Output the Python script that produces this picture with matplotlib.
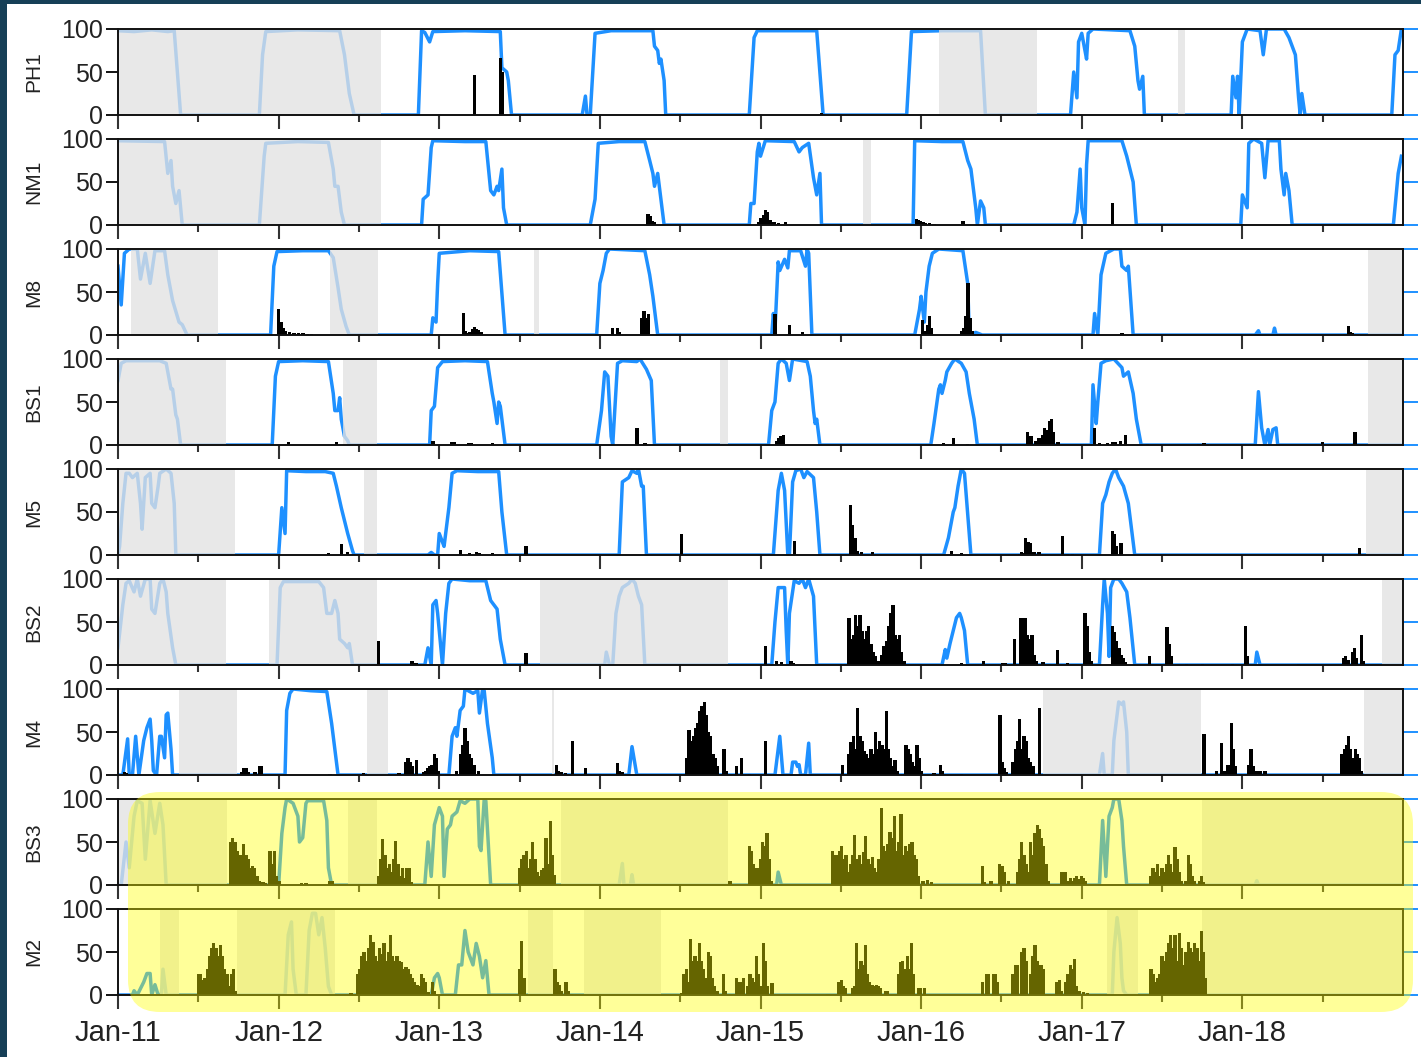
import numpy as np
import matplotlib
matplotlib.use("Agg")
import matplotlib.pyplot as plt
from matplotlib.patches import FancyBboxPatch, Rectangle

plt.rcParams['font.family'] = ['Liberation Sans', 'DejaVu Sans']

# ---- data (decimal years; % ice cover; call counts) ----
stations = ['PH1', 'NM1', 'M8', 'BS1', 'M5', 'BS2', 'M4', 'BS3', 'M2']

ph1_ice = [(2011.00, 98), (2011.10, 97), (2011.21, 99), (2011.31, 97), (2011.35, 98), (2011.39, 0),
           (2011.88, 0), (2011.90, 70), (2011.92, 97), (2012.12, 99), (2012.38, 98), (2012.41, 70),
           (2012.42, 55), (2012.44, 25), (2012.47, 0), (2012.87, 0), (2012.89, 98), (2012.91, 96),
           (2012.94, 85), (2012.96, 97), (2013.16, 98), (2013.38, 97), (2013.39, 55), (2013.42, 50),
           (2013.43, 40), (2013.45, 0), (2013.89, 0), (2013.91, 22), (2013.92, 0), (2013.94, 0),
           (2013.97, 95), (2014.07, 98), (2014.33, 98), (2014.34, 80), (2014.36, 75), (2014.37, 60),
           (2014.38, 65), (2014.40, 40), (2014.41, 0), (2014.93, 0), (2014.96, 90), (2014.98, 98),
           (2015.17, 98), (2015.35, 98), (2015.39, 0), (2015.91, 0), (2015.94, 97), (2016.13, 98),
           (2016.37, 98), (2016.40, 0), (2016.93, 0), (2016.95, 50), (2016.97, 20), (2016.98, 85),
           (2017.00, 95), (2017.02, 75), (2017.03, 65), (2017.04, 95), (2017.07, 100), (2017.30, 98),
           (2017.33, 80), (2017.35, 40), (2017.36, 30), (2017.38, 45), (2017.39, 0), (2017.93, 0),
           (2017.94, 45), (2017.96, 20), (2017.97, 45), (2017.98, 0), (2018.00, 85), (2018.03, 100),
           (2018.11, 98), (2018.13, 70), (2018.15, 100), (2018.26, 100), (2018.29, 90), (2018.33, 70),
           (2018.35, 20), (2018.36, 0), (2018.37, 25), (2018.39, 0), (2018.93, 0), (2018.95, 70),
           (2018.97, 75), (2018.99, 100)]
ph1_gaps = [(2011.00, 2012.64), (2016.11, 2016.72), (2017.60, 2017.64)]
ph1_calls = [(2013.21, [46]), (2013.37, [66, 50]), (2015.37, [2])]

nm1_ice = [(2011.00, 98), (2011.29, 97), (2011.31, 60), (2011.33, 75), (2011.34, 45), (2011.36, 25),
           (2011.38, 40), (2011.40, 0), (2011.88, 0), (2011.91, 80), (2011.92, 95), (2012.12, 97),
           (2012.31, 96), (2012.34, 65), (2012.35, 45), (2012.37, 45), (2012.39, 15), (2012.41, 0),
           (2012.89, 0), (2012.90, 30), (2012.93, 35), (2012.95, 90), (2012.96, 98), (2013.16, 97),
           (2013.29, 97), (2013.32, 40), (2013.34, 35), (2013.36, 45), (2013.37, 40), (2013.39, 65),
           (2013.40, 20), (2013.42, 0), (2013.94, 0), (2013.97, 30), (2013.99, 95), (2014.12, 97),
           (2014.28, 97), (2014.31, 75), (2014.33, 60), (2014.34, 45), (2014.36, 60), (2014.38, 30),
           (2014.40, 0), (2014.93, 0), (2014.94, 25), (2014.96, 25), (2014.98, 85), (2014.99, 95),
           (2015.00, 80), (2015.03, 98), (2015.21, 97), (2015.24, 85), (2015.26, 90), (2015.30, 95),
           (2015.33, 55), (2015.35, 35), (2015.37, 60), (2015.38, 0), (2015.95, 0), (2015.96, 98),
           (2016.13, 97), (2016.26, 97), (2016.29, 75), (2016.31, 65), (2016.34, 20), (2016.35, 0),
           (2016.37, 28), (2016.39, 20), (2016.40, 0), (2016.95, 0), (2016.97, 15), (2016.99, 65),
           (2017.00, 20), (2017.02, 0), (2017.03, 70), (2017.04, 98), (2017.25, 98), (2017.28, 80),
           (2017.32, 50), (2017.34, 0), (2017.99, 0), (2018.00, 35), (2018.03, 20), (2018.04, 95),
           (2018.07, 100), (2018.12, 95), (2018.14, 55), (2018.16, 98), (2018.23, 98), (2018.24, 65),
           (2018.26, 35), (2018.27, 60), (2018.29, 40), (2018.31, 0), (2018.94, 0), (2018.97, 60),
           (2018.99, 80)]
nm1_gaps = [(2011.00, 2012.64), (2015.64, 2015.69)]
nm1_calls = [(2014.29, [13, 10, 5, 4]), (2014.98, [4, 8, 12, 17, 15, 6, 4, 3, 0, 2, 0, 0, 3]),
             (2015.96, [7, 6, 5, 3, 2, 0, 2, 0, 1]), (2016.25, [5]), (2017.18, [25]), (2017.99, [1])]

m8_ice = [(2011.00, 80), (2011.02, 35), (2011.04, 95), (2011.07, 100), (2011.12, 100), (2011.14, 65),
          (2011.17, 95), (2011.20, 60), (2011.23, 98), (2011.29, 98), (2011.31, 70), (2011.34, 40),
          (2011.38, 15), (2011.40, 12), (2011.43, 0), (2011.95, 0), (2011.97, 80), (2011.99, 97),
          (2012.15, 98), (2012.31, 98), (2012.34, 90), (2012.37, 55), (2012.39, 30), (2012.42, 10),
          (2012.44, 0), (2012.95, 0), (2012.96, 20), (2012.98, 15), (2012.99, 60), (2013.00, 95),
          (2013.19, 98), (2013.37, 97), (2013.41, 0), (2013.98, 0), (2014.00, 60), (2014.02, 75),
          (2014.04, 95), (2014.06, 100), (2014.28, 98), (2014.31, 70), (2014.33, 45), (2014.36, 0),
          (2015.07, 0), (2015.08, 25), (2015.09, 5), (2015.11, 85), (2015.12, 75), (2015.15, 88),
          (2015.17, 78), (2015.18, 98), (2015.25, 98), (2015.28, 80), (2015.29, 100), (2015.30, 95),
          (2015.32, 0), (2015.96, 0), (2015.99, 30), (2016.00, 45), (2016.02, 15), (2016.03, 50),
          (2016.05, 80), (2016.07, 95), (2016.11, 100), (2016.26, 98), (2016.29, 60), (2016.30, 0),
          (2016.34, 3), (2016.38, 0), (2017.07, 0), (2017.08, 25), (2017.10, 0), (2017.12, 70),
          (2017.15, 95), (2017.20, 100), (2017.24, 100), (2017.25, 80), (2017.28, 75), (2017.29, 80),
          (2017.32, 0), (2018.08, 0), (2018.10, 5), (2018.11, 0), (2018.19, 0), (2018.20, 8),
          (2018.21, 0), (2019.00, 0)]
m8_gaps = [(2011.08, 2011.62), (2012.32, 2012.62), (2013.59, 2013.62), (2018.78, 2019.00)]
m8_calls = [(2011.99, [30, 15, 8, 5, 0, 3, 0, 2, 0, 2, 0, 2, 0, 1, 0, 1]),
            (2013.14, [26, 5, 2, 3, 7, 9, 7, 6, 3]), (2014.07, [8, 0, 8, 4]), (2014.25, [20, 28, 20, 25]),
            (2015.08, [25]), (2015.17, [12]), (2015.25, [3]), (2016.00, [18, 5, 12, 22, 8]),
            (2016.24, [5, 8, 22, 60, 20, 5]), (2017.24, [2]), (2018.65, [10, 4, 2])]

bs1_ice = [(2011.00, 75), (2011.02, 95), (2011.05, 98), (2011.26, 98), (2011.30, 95), (2011.33, 65),
           (2011.34, 65), (2011.36, 35), (2011.37, 30), (2011.39, 0), (2011.96, 0), (2011.98, 80),
           (2012.00, 97), (2012.15, 98), (2012.31, 97), (2012.34, 60), (2012.35, 40), (2012.37, 40),
           (2012.38, 55), (2012.39, 30), (2012.41, 10), (2012.43, 5), (2012.44, 0), (2012.94, 0),
           (2012.95, 40), (2012.97, 45), (2012.99, 90), (2013.02, 97), (2013.16, 98), (2013.30, 97),
           (2013.33, 60), (2013.34, 50), (2013.36, 25), (2013.37, 50), (2013.38, 45), (2013.41, 0),
           (2013.98, 0), (2014.01, 40), (2014.03, 85), (2014.05, 80), (2014.07, 10), (2014.08, 0),
           (2014.11, 95), (2014.14, 98), (2014.23, 97), (2014.25, 100), (2014.29, 88), (2014.32, 75),
           (2014.34, 0), (2015.05, 0), (2015.07, 40), (2015.09, 50), (2015.11, 95), (2015.13, 100),
           (2015.16, 95), (2015.18, 75), (2015.20, 100), (2015.29, 97), (2015.31, 80), (2015.33, 40),
           (2015.34, 25), (2015.35, 30), (2015.37, 0), (2016.06, 0), (2016.08, 25), (2016.11, 65),
           (2016.12, 70), (2016.13, 60), (2016.15, 75), (2016.16, 85), (2016.19, 95), (2016.21, 100),
           (2016.25, 95), (2016.28, 85), (2016.30, 60), (2016.33, 30), (2016.35, 0), (2017.06, 0),
           (2017.07, 70), (2017.09, 25), (2017.10, 50), (2017.12, 95), (2017.15, 98), (2017.20, 100),
           (2017.25, 90), (2017.26, 80), (2017.29, 85), (2017.32, 60), (2017.34, 30), (2017.37, 0),
           (2018.08, 0), (2018.10, 62), (2018.12, 20), (2018.14, 0), (2018.16, 18), (2018.17, 0),
           (2018.19, 18), (2018.21, 20), (2018.22, 0), (2019.00, 0)]
bs1_gaps = [(2011.00, 2011.67), (2012.40, 2012.61), (2014.75, 2014.80), (2018.78, 2019.00)]
bs1_calls = [(2012.05, [4]), (2012.35, [3]), (2012.95, [5]), (2013.07, [4, 4]), (2013.17, [2]),
             (2013.19, [2]), (2013.32, [2]), (2014.22, [20]), (2014.27, [2]), (2015.09, [5, 8, 10, 12]),
             (2016.13, [2]), (2016.19, [8]), (2016.28, [1]),
             (2016.65, [15, 10, 10, 0, 5, 8, 8, 12, 20, 18, 28, 30, 15, 0, 3]),
             (2017.07, [20]), (2017.10, [2]), (2017.15, [2]), (2017.18, [3]), (2017.20, [3]),
             (2017.23, [5]), (2017.26, [12]), (2017.40, [1]), (2017.72, [1]), (2017.75, [2]),
             (2018.49, [4]), (2018.69, [15])]

m5_ice = [(2011.00, 0), (2011.01, 10), (2011.03, 60), (2011.05, 95), (2011.07, 95), (2011.09, 90),
          (2011.12, 95), (2011.14, 60), (2011.15, 30), (2011.17, 90), (2011.20, 95), (2011.21, 60),
          (2011.23, 55), (2011.25, 80), (2011.26, 95), (2011.30, 100), (2011.33, 95), (2011.35, 60),
          (2011.36, 0), (2012.00, 0), (2012.02, 55), (2012.04, 25), (2012.05, 98), (2012.17, 97),
          (2012.29, 97), (2012.34, 95), (2012.36, 80), (2012.39, 55), (2012.43, 25), (2012.46, 5),
          (2012.47, 0), (2012.93, 0), (2012.95, 3), (2012.97, 0), (2012.99, 0), (2013.00, 25),
          (2013.02, 15), (2013.03, 10), (2013.06, 55), (2013.08, 95), (2013.11, 98), (2013.24, 97),
          (2013.37, 97), (2013.39, 50), (2013.42, 0), (2014.12, 0), (2014.14, 85), (2014.18, 90),
          (2014.20, 98), (2014.23, 95), (2014.24, 100), (2014.26, 80), (2014.27, 80), (2014.29, 0),
          (2015.08, 0), (2015.11, 75), (2015.13, 95), (2015.15, 75), (2015.17, 0), (2015.18, 0),
          (2015.20, 85), (2015.22, 98), (2015.25, 100), (2015.27, 90), (2015.29, 97), (2015.33, 90),
          (2015.35, 50), (2015.37, 0), (2016.14, 0), (2016.17, 20), (2016.20, 50), (2016.21, 55),
          (2016.23, 80), (2016.25, 100), (2016.27, 95), (2016.31, 0), (2017.11, 0), (2017.13, 60),
          (2017.15, 70), (2017.17, 85), (2017.19, 95), (2017.21, 100), (2017.23, 90), (2017.26, 80),
          (2017.29, 60), (2017.33, 0), (2019.00, 0)]
m5_gaps = [(2011.00, 2011.73), (2012.53, 2012.61), (2018.77, 2019.00)]
m5_calls = [(2012.30, [2]), (2012.38, [13]), (2012.42, [4]), (2013.12, [6]), (2013.18, [2]),
            (2013.22, [3]), (2013.24, [2]), (2013.32, [2]), (2013.53, [10]), (2014.50, [24]),
            (2015.20, [16]), (2015.55, [58, 35, 20, 5, 0, 3, 0, 0, 0, 0, 3]), (2016.18, [5]),
            (2016.24, [2]), (2016.60, [1, 3, 2, 20, 15, 14, 3, 3, 0, 3]), (2016.87, [22]),
            (2016.90, [1]), (2016.93, [1]), (2017.18, [28, 25, 10, 0, 14]), (2018.72, [8])]

bs2_ice = [(2011.00, 20), (2011.03, 70), (2011.05, 95), (2011.07, 98), (2011.10, 85), (2011.12, 100),
           (2011.14, 80), (2011.17, 100), (2011.20, 100), (2011.21, 65), (2011.23, 60), (2011.26, 95),
           (2011.28, 100), (2011.30, 85), (2011.31, 60), (2011.34, 20), (2011.36, 0), (2011.99, 0),
           (2012.01, 90), (2012.03, 97), (2012.25, 97), (2012.28, 90), (2012.30, 60), (2012.33, 60),
           (2012.35, 75), (2012.37, 60), (2012.38, 30), (2012.41, 25), (2012.43, 20), (2012.44, 25),
           (2012.46, 0), (2012.91, 0), (2012.93, 20), (2012.95, 0), (2012.96, 70), (2012.98, 75),
           (2012.99, 60), (2013.02, 0), (2013.04, 60), (2013.06, 95), (2013.08, 100), (2013.19, 98),
           (2013.29, 98), (2013.32, 75), (2013.36, 65), (2013.38, 30), (2013.41, 0), (2014.03, 0),
           (2014.04, 15), (2014.06, 0), (2014.08, 0), (2014.10, 60), (2014.12, 80), (2014.14, 90),
           (2014.18, 95), (2014.20, 100), (2014.22, 95), (2014.24, 80), (2014.26, 70), (2014.28, 0),
           (2015.07, 0), (2015.09, 50), (2015.11, 90), (2015.15, 90), (2015.16, 40), (2015.17, 0),
           (2015.18, 60), (2015.21, 98), (2015.24, 95), (2015.26, 100), (2015.28, 90), (2015.30, 100),
           (2015.33, 80), (2015.35, 0), (2016.13, 0), (2016.15, 18), (2016.16, 8), (2016.18, 25),
           (2016.20, 40), (2016.22, 55), (2016.24, 60), (2016.25, 55), (2016.27, 40), (2016.29, 0),
           (2017.11, 0), (2017.13, 70), (2017.14, 100), (2017.16, 60), (2017.17, 10), (2017.18, 90),
           (2017.20, 100), (2017.23, 100), (2017.25, 95), (2017.28, 85), (2017.30, 55), (2017.33, 0),
           (2018.08, 0), (2018.09, 15), (2018.11, 0), (2019.00, 0)]
bs2_gaps = [(2011.00, 2011.67), (2011.94, 2012.61), (2013.63, 2014.80), (2018.87, 2019.00)]
bs2_calls = [(2012.61, [28]), (2012.82, [5, 2, 2]), (2013.53, [14]), (2015.02, [22]), (2015.09, [5]),
             (2015.12, [3]), (2015.18, [5, 2]),
             (2015.54, [55, 30, 35, 58, 45, 58, 40, 30, 40, 45, 25, 15, 10, 5, 5,
                        12, 22, 28, 45, 60, 70, 35, 30, 35, 15, 5]),
             (2016.24, [2]), (2016.38, [5]), (2016.50, [2, 2]),
             (2016.57, [30, 0, 0, 55, 55, 55, 35, 30, 35, 12, 5, 0, 0, 3]), (2016.84, [18]),
             (2016.90, [2]), (2017.01, [60, 45, 15, 5]), (2017.18, [45, 38, 28, 20, 12, 8, 3]),
             (2017.41, [10]), (2017.52, [44, 25, 10]), (2017.64, [1]), (2017.74, [1]), (2017.93, [1]),
             (2018.01, [45, 10]), (2018.34, [1]), (2018.62, [8, 10, 6, 0, 15, 20, 8, 0, 35, 5])]

m4_ice = [(2011.00, 0), (2011.03, 0), (2011.06, 42), (2011.07, 0), (2011.09, 0), (2011.11, 45),
          (2011.13, 0), (2011.16, 40), (2011.18, 55), (2011.20, 65), (2011.21, 40), (2011.22, 5),
          (2011.24, 0), (2011.26, 45), (2011.27, 45), (2011.29, 20), (2011.30, 70), (2011.31, 72),
          (2011.33, 30), (2011.34, 0), (2012.04, 0), (2012.05, 75), (2012.07, 95), (2012.09, 100),
          (2012.20, 98), (2012.30, 97), (2012.33, 60), (2012.35, 30), (2012.37, 0), (2013.06, 0),
          (2013.08, 45), (2013.10, 55), (2013.11, 45), (2013.13, 75), (2013.15, 80), (2013.16, 100),
          (2013.21, 95), (2013.24, 98), (2013.25, 72), (2013.27, 100), (2013.28, 98), (2013.30, 60),
          (2013.33, 20), (2013.34, 0), (2014.18, 0), (2014.20, 33), (2014.23, 0), (2015.09, 0),
          (2015.12, 45), (2015.14, 0), (2015.19, 0), (2015.20, 15), (2015.22, 15), (2015.23, 10),
          (2015.24, 12), (2015.25, 0), (2015.28, 0), (2015.30, 37), (2015.31, 0), (2017.11, 0),
          (2017.13, 25), (2017.14, 0), (2017.19, 0), (2017.20, 40), (2017.23, 85), (2017.25, 82),
          (2017.26, 85), (2017.28, 50), (2017.29, 0), (2019.00, 0)]
m4_gaps = [(2011.38, 2011.74), (2012.55, 2012.68), (2013.70, 2013.715), (2016.76, 2017.74),
           (2018.76, 2019.00)]
m4_calls = [(2011.03, [4, 2]), (2011.76, [3, 8, 8, 3, 0, 0, 3, 0, 10, 10]), (2012.31, [1]),
            (2012.52, [2]),
            (2012.74, [2, 0, 0, 15, 20, 15, 10, 0, 18, 0, 0, 3, 5, 8, 10, 12, 25, 20, 5, 0, 0, 0,
                       0, 0, 0, 0, 5, 0, 25, 35, 55, 40, 25, 20, 12, 0, 5]),
            (2013.72, [12, 5, 3, 0, 2]), (2013.82, [40]), (2013.90, [8]), (2014.10, [14, 5, 3]),
            (2014.53, [20, 52, 40, 45, 55, 60, 75, 80, 85, 70, 50, 45, 25, 20, 10, 0, 0, 30, 5]),
            (2014.84, [10]), (2014.87, [20]), (2014.92, [1]), (2015.02, [40]), (2015.50, [12]),
            (2015.54, [25, 38, 45, 30, 78, 45, 40, 28, 25, 20, 30, 25, 50, 30, 40, 35, 30, 75, 30,
                       20, 10, 18, 5, 0, 0, 0, 35, 30, 25, 15, 10, 35, 20, 5]),
            (2016.07, [2]), (2016.11, [12, 5]), (2016.24, [1]),
            (2016.48, [70, 15, 8, 3, 0, 0, 15, 30, 40, 65, 30, 45, 40, 20, 15, 10, 0, 0, 78]),
            (2017.75, [48]), (2017.83, [5]), (2017.86, [37]), (2017.88, [5]), (2017.90, [12]),
            (2017.92, [60, 30, 10]), (2018.03, [12, 30, 10]), (2018.08, [5]), (2018.10, [5]),
            (2018.13, [5]), (2018.61, [25, 30, 35, 45, 30, 20, 30, 25, 20, 5])]

bs3_ice = [(2011.00, 0), (2011.02, 0), (2011.05, 50), (2011.07, 20), (2011.10, 80), (2011.12, 98),
           (2011.15, 95), (2011.17, 30), (2011.20, 98), (2011.23, 60), (2011.26, 95), (2011.28, 70),
           (2011.30, 0), (2012.00, 0), (2012.02, 60), (2012.04, 90), (2012.05, 100), (2012.09, 95),
           (2012.12, 80), (2012.13, 50), (2012.15, 55), (2012.17, 95), (2012.18, 98), (2012.28, 98),
           (2012.30, 75), (2012.31, 20), (2012.33, 0), (2012.91, 0), (2012.93, 50), (2012.95, 10),
           (2012.97, 70), (2013.00, 90), (2013.02, 80), (2013.03, 10), (2013.05, 65), (2013.07, 70),
           (2013.08, 80), (2013.11, 85), (2013.13, 98), (2013.16, 95), (2013.19, 100), (2013.24, 100),
           (2013.25, 45), (2013.26, 40), (2013.28, 100), (2013.29, 98), (2013.32, 0), (2014.12, 0),
           (2014.14, 25), (2014.15, 0), (2014.19, 0), (2014.20, 12), (2014.21, 0), (2015.10, 0),
           (2015.11, 15), (2015.13, 0), (2017.11, 0), (2017.13, 75), (2017.15, 10), (2017.17, 80),
           (2017.19, 90), (2017.20, 100), (2017.23, 100), (2017.25, 75), (2017.26, 45), (2017.28, 0),
           (2018.08, 0), (2018.09, 5), (2018.10, 0), (2019.00, 0)]
bs3_gaps = [(2011.00, 2011.68), (2012.43, 2012.61), (2013.76, 2014.80), (2017.75, 2019.00)]
bs3_calls = [(2011.69, [50, 55, 50, 40, 35, 35, 48, 35, 30, 20, 22, 20, 10, 5, 3, 3, 2, 0, 40, 25,
                        40, 10, 5]),
             (2012.13, [2]), (2012.16, [2]), (2012.31, [5, 5]),
             (2012.61, [10, 30, 53, 35, 20, 25, 15, 30, 51, 25, 10, 20, 8, 20, 20, 3]),
             (2013.49, [20, 30, 35, 40, 20, 30, 50, 30, 15, 10, 18, 20, 55, 25, 75, 35, 12]),
             (2014.80, [5]), (2014.92, [45, 40, 25, 20, 20, 30, 50, 45, 60, 30, 5]),
             (2015.44, [40, 35, 35, 40, 45, 30, 35, 15, 25, 35, 58, 30, 35, 25, 38, 57, 30, 25, 33,
                        20, 15, 30, 90, 45, 40, 48, 62, 55, 80, 40, 50, 83, 35, 45, 40, 48, 50, 35,
                        30, 10, 0, 5, 0, 6, 0, 3]),
             (2016.37, [22, 3, 0, 0, 5, 0, 0, 0, 25, 22, 15, 0, 5, 0, 0, 0, 15, 30, 50, 35, 25, 15,
                        50, 35, 60, 70, 65, 55, 45, 25, 5, 0, 0, 0, 0, 0, 15, 15, 15, 5, 8, 5, 8, 10,
                        7, 10, 8, 5]),
             (2017.42, [10, 20, 15, 25, 10, 20, 15, 25, 35, 25, 15, 44, 30, 15, 5, 0, 5, 35, 25, 10,
                        5, 0, 5, 10, 3])]

m2_ice = [(2011.00, 0), (2011.09, 0), (2011.10, 5), (2011.12, 0), (2011.16, 15), (2011.18, 25),
          (2011.20, 25), (2011.21, 0), (2011.23, 12), (2011.25, 0), (2011.27, 0), (2011.28, 30),
          (2011.30, 0), (2012.04, 0), (2012.06, 70), (2012.08, 85), (2012.09, 30), (2012.11, 0),
          (2012.17, 0), (2012.19, 75), (2012.21, 95), (2012.23, 95), (2012.25, 70), (2012.27, 90),
          (2012.29, 55), (2012.31, 10), (2012.33, 0), (2012.95, 0), (2012.97, 20), (2012.99, 25),
          (2013.00, 20), (2013.02, 0), (2013.10, 0), (2013.12, 35), (2013.14, 35), (2013.16, 75),
          (2013.18, 50), (2013.21, 35), (2013.23, 60), (2013.25, 45), (2013.27, 20), (2013.29, 40),
          (2013.31, 0), (2017.19, 0), (2017.20, 50), (2017.22, 90), (2017.24, 60), (2017.25, 20),
          (2017.26, 5), (2017.28, 0), (2019.00, 0)]
m2_gaps = [(2011.26, 2011.38), (2011.74, 2012.35), (2013.55, 2013.71), (2013.90, 2014.38),
           (2017.16, 2017.35), (2017.75, 2019.00)]
m2_calls = [(2011.49, [25, 25, 18, 20, 30, 45, 55, 60, 55, 45, 58, 45, 30, 25, 10, 25, 30, 5]),
            (2012.44, [2, 0, 0, 25, 30, 45, 50, 40, 55, 70, 62, 45, 40, 55, 48, 60, 40, 50, 70, 45,
                       40, 45, 40, 38, 30, 32, 30, 25, 20, 15, 12, 10, 25, 20, 15, 3, 0, 15, 5]),
            (2013.49, [30, 63, 20]), (2013.71, [30, 15, 12, 5, 0, 15, 5]), (2013.81, [1]),
            (2014.50, [2, 25, 30, 15, 65, 40, 45, 40, 60, 40, 30, 20, 50, 45, 20, 10, 5, 0, 0, 25, 5,
                       0, 0, 0, 0, 20, 15, 15, 20, 0, 10, 25, 20, 15, 45, 25, 10, 60, 40, 10, 0, 14]),
            (2015.41, [1, 0, 0, 0, 0, 15, 18, 10, 8, 0, 0, 8, 10, 60, 30, 40, 35, 58, 25, 15, 12, 10,
                       12, 10, 8, 0, 5, 5, 0, 0, 0, 0, 25, 38, 40, 30, 45, 30, 60, 25, 0, 8, 8, 0, 8]),
            (2016.37, [15, 0, 25, 25, 0, 25, 25, 15, 0, 0, 0, 0, 0, 0, 25, 35, 35, 0, 50, 55, 40, 0,
                       25, 45, 58, 40, 35, 35, 30, 0, 0, 0, 0, 0, 15, 18, 5, 0, 15, 25, 35, 30, 42,
                       10, 5, 0, 3, 0, 2]),
            (2017.42, [30, 25, 15, 20, 25, 45, 40, 50, 60, 70, 55, 70, 40, 72, 55, 35, 50, 62, 55, 50,
                       60, 55, 40, 75, 50, 20])]

year_ticks = [2011, 2012, 2013, 2014, 2015, 2016, 2017, 2018]
year_labels = ['Jan-11', 'Jan-12', 'Jan-13', 'Jan-14', 'Jan-15', 'Jan-16', 'Jan-17', 'Jan-18']

ice_data = [ph1_ice, nm1_ice, m8_ice, bs1_ice, m5_ice, bs2_ice, m4_ice, bs3_ice, m2_ice]
gap_data = [ph1_gaps, nm1_gaps, m8_gaps, bs1_gaps, m5_gaps, bs2_gaps, m4_gaps, bs3_gaps, m2_gaps]
call_data = [ph1_calls, nm1_calls, m8_calls, bs1_calls, m5_calls, bs2_calls, m4_calls, bs3_calls,
             m2_calls]

BIN = 5 / 365.25  # call counts are in 5-day bins
ICE = '#1e90ff'

W, H = 1421, 1057
fig = plt.figure(figsize=(W / 100, H / 100), dpi=100)
fig.patch.set_facecolor('white')

for i, name in enumerate(stations):
    top = 29 + 110 * i
    ax = fig.add_axes([118 / W, 1 - (top + 86) / H, 1285 / W, 86 / H])

    ice = np.array(ice_data[i], dtype=float)
    ax.plot(ice[:, 0], ice[:, 1], color=ICE, lw=2.5, zorder=2, solid_joinstyle='round')

    for g0, g1 in gap_data[i]:
        ax.axvspan(g0, g1, color='#e2e2e2', alpha=0.78, lw=0, zorder=3)

    for start, heights in call_data[i]:
        x = start + BIN * np.arange(len(heights))
        ax.bar(x, heights, width=BIN * 1.5, color='black', align='edge', lw=0, zorder=4)

    ax.set_xlim(2011, 2019)
    ax.set_ylim(0, 100)
    ax.set_yticks([0, 50, 100])
    ax.set_xticks(year_ticks)
    ax.set_xticks(np.array(year_ticks) + 0.5, minor=True)
    if i == len(stations) - 1:
        ax.set_xticklabels(year_labels)
    else:
        ax.set_xticklabels([])
    ax.tick_params(axis='y', direction='out', length=9, width=1.3, labelsize=18,
                   labelcolor='#222222', pad=2)
    ax.tick_params(axis='x', which='major', direction='out', length=10, width=1.5,
                   color='#333333', labelsize=21, labelcolor='#222222', pad=7)
    ax.tick_params(axis='x', which='minor', direction='out', length=5, width=1.5, color='#333333')
    for sp in ax.spines.values():
        sp.set_linewidth(1.4)
        sp.set_color('#111111')
        sp.set_zorder(6)
    ax.set_ylabel(name, fontsize=15, color='#222222')
    ax.yaxis.set_label_coords(-0.058, 0.5)

    sec = ax.secondary_yaxis('right')
    sec.set_yticks([0, 50, 100])
    sec.tick_params(direction='out', length=11, width=1.4, color=ICE, labelright=False)
    sec.spines['right'].set_visible(False)

# yellow highlight over the two bottom stations
fig.add_artist(FancyBboxPatch((1.28, 0.45), 12.85, 2.20,
                              boxstyle='round,pad=0,rounding_size=0.32',
                              transform=fig.dpi_scale_trans, facecolor='#ffff00',
                              edgecolor='none', alpha=0.4, zorder=20))

# dark frame strips on the top and left edges
fig.add_artist(Rectangle((0, 10.53), 14.21, 0.05, transform=fig.dpi_scale_trans,
                         facecolor='#163f57', edgecolor='none', zorder=30))
fig.add_artist(Rectangle((0, 0), 0.07, 10.57, transform=fig.dpi_scale_trans,
                         facecolor='#163f57', edgecolor='none', zorder=30))

fig.savefig('out.png', dpi=100)
